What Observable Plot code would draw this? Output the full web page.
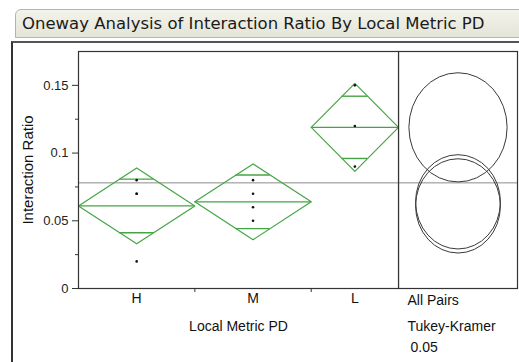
<!DOCTYPE html>
<html>
<head>
<meta charset="utf-8">
<script src="https://cdn.jsdelivr.net/npm/d3@7"></script>
<script src="https://cdn.jsdelivr.net/npm/@observablehq/plot@0.6"></script>
<style>
  body { margin:0; width:519px; height:362px; overflow:hidden; position:relative; background:#fff; }
  #title { position:absolute; left:15px; top:9px; width:520px; height:29px; box-sizing:border-box;
    background:linear-gradient(#f3f3ea,#e4e4d8); border:1px solid #b5b5aa; border-radius:6px 0 0 0;
    font-family:"DejaVu Sans",sans-serif; font-size:16.5px; color:#1a1a1a; line-height:27px; padding-left:6px; white-space:nowrap; }
  #panel { position:absolute; left:11px; top:41px; width:530px; height:340px; border-left:2px solid #333; border-top:2px solid #555; }
  #main { position:absolute; left:0; top:0; }
  #side { position:absolute; left:398px; top:0; }
</style>
</head>
<body>
<div id="title">Oneway Analysis of Interaction Ratio By Local Metric PD</div>
<div id="panel"></div>
<div id="main"></div>
<div id="side"></div>
<script>
// ---- data ----
const groups = ["H", "M", "L"];
const groupCounts = [4, 4, 3];
const obsGroup = ["H", "H", "H", "H", "M", "M", "M", "M", "L", "L", "L"];
const obsValue = [0.08, 0.07, 0.07, 0.02, 0.08, 0.07, 0.06, 0.05, 0.15, 0.12, 0.09];
const groupMeans = [0.061, 0.064, 0.119];
const ciHalfWidth = [0.028, 0.028, 0.0325];
const circleRadius = [0.0348, 0.0348, 0.0403];
const grandMean = 0.078;
const yTicks = [0, 0.05, 0.1, 0.15];
const yMinorTicks = [0.025, 0.075, 0.125];
const xTitle = "Local Metric PD";
const yTitle = "Interaction Ratio";
const sideLabels = ["All Pairs", "Tukey-Kramer", "0.05"];

// ---- derived tables ----
const starts = [];
let acc = 0;
groupCounts.forEach(n => { starts.push(acc); acc += n; });
const total = acc;
const boundaries = starts.slice(1);
const groupInfo = groups.map((g, i) => ({
  g, x0: starts[i], x1: starts[i] + groupCounts[i], xc: starts[i] + groupCounts[i] / 2,
  mean: groupMeans[i], h: ciHalfWidth[i], r: circleRadius[i]
}));
const diamondPts = groupInfo.flatMap(d => [
  {g: d.g, x: d.x0, y: d.mean},
  {g: d.g, x: d.xc, y: d.mean + d.h},
  {g: d.g, x: d.x1, y: d.mean},
  {g: d.g, x: d.xc, y: d.mean - d.h},
  {g: d.g, x: d.x0, y: d.mean}
]);
const k = 1 / Math.SQRT2;
const overlapLines = groupInfo.flatMap(d => {
  const half = (d.x1 - d.x0) / 2 * (1 - k);
  return [
    {y: d.mean + d.h * k, x1: d.xc - half, x2: d.xc + half},
    {y: d.mean - d.h * k, x1: d.xc - half, x2: d.xc + half}
  ];
});
const obs = obsValue.map((v, i) => ({g: obsGroup[i], v, x: groupInfo[groups.indexOf(obsGroup[i])].xc}));

const H = 362, MT = 51, MB = 74;
const yDomain = [0, 0.175];
const green = "#45a545";
const font = "Liberation Sans, Arial, sans-serif";

const main = Plot.plot({
  width: 400, height: H,
  marginLeft: 78, marginRight: 2, marginTop: MT, marginBottom: MB,
  style: {background: "transparent", fontFamily: font, fontSize: "13px", color: "#222"},
  x: {domain: [0, total]},
  y: {domain: yDomain},
  marks: [
    Plot.ruleY([grandMean], {stroke: "#8a8a8a", strokeWidth: 1}),
    Plot.line(diamondPts, {x: "x", y: "y", z: "g", stroke: green, strokeWidth: 1.2}),
    Plot.ruleY(groupInfo, {y: "mean", x1: "x0", x2: "x1", stroke: green, strokeWidth: 1.4}),
    Plot.ruleY(overlapLines, {y: "y", x1: "x1", x2: "x2", stroke: green, strokeWidth: 1.4}),
    Plot.dot(obs, {x: "x", y: "v", r: 1.3, fill: "#111", stroke: null}),
    Plot.frame({stroke: "#333", strokeWidth: 1.2}),
    Plot.axisY({ticks: yTicks, tickSize: 6, tickPadding: 4, tickFormat: d => String(d), label: null, fontSize: 13, stroke: "#333"}),
    Plot.axisY({ticks: yMinorTicks, tickSize: 3, tickFormat: () => "", label: null, stroke: "#333"}),
    Plot.axisX({ticks: boundaries, tickSize: 4, tickFormat: () => "", label: null, stroke: "#333"}),
    Plot.text(groupInfo, {x: "xc", frameAnchor: "bottom", dy: 14, text: "g", fontSize: 14, fill: "#111"}),
    Plot.text([xTitle], {frameAnchor: "bottom", dy: 42, text: d => d, fontSize: 14, fill: "#111"}),
    Plot.text([yTitle], {frameAnchor: "left", dx: -50, rotate: -90, textAnchor: "middle", text: d => d, fontSize: 15, fill: "#111"})
  ]
});
document.getElementById("main").appendChild(main);

const side = Plot.plot({
  width: 121, height: H,
  marginLeft: 0, marginRight: 2, marginTop: MT, marginBottom: MB,
  style: {background: "transparent", fontFamily: font, fontSize: "14px", color: "#111"},
  y: {domain: yDomain, axis: null},
  r: {type: "linear", domain: yDomain, range: [0, H - MT - MB]},
  marks: [
    Plot.ruleY([grandMean], {stroke: "#8a8a8a", strokeWidth: 1}),
    Plot.dot(groupInfo, {y: "mean", r: "r", stroke: "#3a3a3a", strokeWidth: 1, fill: "none", className: "cmp"}),
    Plot.frame({stroke: "#333", strokeWidth: 1.2}),
    Plot.text([sideLabels[0]], {frameAnchor: "bottom-left", dx: 9, dy: 16, textAnchor: "start", text: d => d, fontSize: 14}),
    Plot.text([sideLabels[1]], {frameAnchor: "bottom-left", dx: 9, dy: 42, textAnchor: "start", text: d => d, fontSize: 14}),
    Plot.text([sideLabels[2]], {frameAnchor: "bottom-left", dx: 12, dy: 63, textAnchor: "start", text: d => d, fontSize: 14})
  ]
});
// the reference's comparison circles are drawn slightly narrower than tall
d3.select(side).selectAll(".cmp circle").each(function() {
  const c = d3.select(this);
  const cx = +c.attr("cx"), cy = +c.attr("cy"), r = +c.attr("r");
  const p = this.parentNode;
  d3.select(p).append("ellipse")
    .attr("cx", cx).attr("cy", cy).attr("rx", r * 0.9).attr("ry", r)
    .attr("fill", "none").attr("stroke", "#3a3a3a").attr("stroke-width", 1);
  c.remove();
});
document.getElementById("side").appendChild(side);
</script>
</body>
</html>
